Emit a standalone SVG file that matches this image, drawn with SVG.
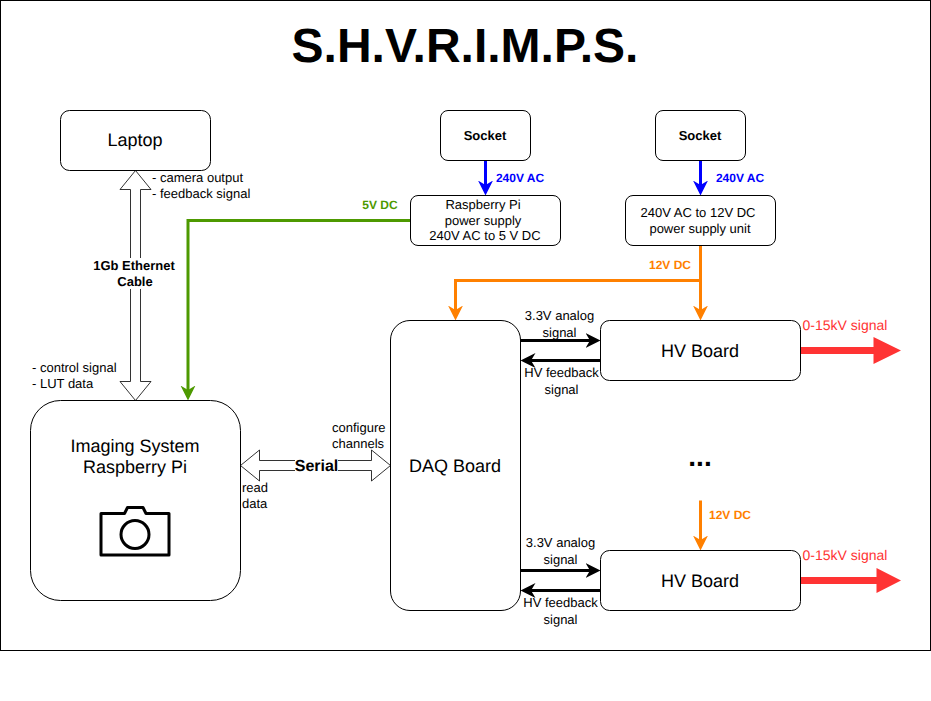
<svg xmlns="http://www.w3.org/2000/svg" width="931" height="701" viewBox="0 0 931 701">
<style>
text{font-family:"Liberation Sans",Arial,sans-serif;text-anchor:middle;fill:#000;text-rendering:geometricPrecision}
.n{fill:#fff;stroke:#000;stroke-width:1}
.t16{font-size:18px}
.t13{font-size:13px}
.s{text-anchor:start}
.b{font-weight:bold}
.b12{font-size:12px;font-weight:bold}
.w{fill:none;stroke-width:3}
.hollow{fill:#fff;stroke:#000;stroke-width:1;stroke-opacity:.8}
</style>
<defs>
<marker id="aBlue" markerUnits="userSpaceOnUse" markerWidth="17" markerHeight="17" refX="7" refY="8" orient="auto"><path d="M0 0.5L15 8L0 15.5L4.5 8Z" fill="#0000ff"/></marker>
<marker id="aOrange" markerUnits="userSpaceOnUse" markerWidth="17" markerHeight="17" refX="7" refY="8" orient="auto"><path d="M0 0.5L15 8L0 15.5L4.5 8Z" fill="#ff8000"/></marker>
<marker id="aGreen" markerUnits="userSpaceOnUse" markerWidth="17" markerHeight="17" refX="7" refY="8" orient="auto"><path d="M0 0.5L15 8L0 15.5L4.5 8Z" fill="#4d9900"/></marker>
<marker id="aBlack" markerUnits="userSpaceOnUse" markerWidth="17" markerHeight="17" refX="7" refY="8" orient="auto"><path d="M0 0.5L15 8L0 15.5L4.5 8Z" fill="#000"/></marker>
</defs>
<rect id="frame" x="0.5" y="0.5" width="930" height="650" fill="#fff" stroke="#000"/>
<text x="465" y="62" class="b" font-size="48">S.H.V.R.I.M.P.S.</text>
<g id="connectors">
<path class="hollow" d="M135.5 170.5L151 189.5H140.5V381.5H151L135.5 400.5L120 381.5H130.5V189.5H120Z"/>
<path class="hollow" d="M240.5 465.5L259.5 450V460.5H371.5V450L390.5 465.5L371.5 481V470.5H259.5V481Z"/>
<path class="w" stroke="#4d9900" d="M410.5 220.5H188V392.500" marker-end="url(#aGreen)"/>
<path class="w" stroke="#0000ff" d="M485.5 160.5V187.500" marker-end="url(#aBlue)"/>
<path class="w" stroke="#0000ff" d="M700.5 160.5V187.500" marker-end="url(#aBlue)"/>
<path class="w" stroke="#ff8000" d="M700.5 245.5V312.500" marker-end="url(#aOrange)"/>
<path class="w" stroke="#ff8000" d="M700.5 280.5H455.5V312.500" marker-end="url(#aOrange)"/>
<path class="w" stroke="#ff8000" d="M700.5 500.5V542.500" marker-end="url(#aOrange)"/>
<path class="w" stroke="#000" d="M520.5 340.5H592.500" marker-end="url(#aBlack)"/>
<path class="w" stroke="#000" d="M600.5 360.5H528.500" marker-end="url(#aBlack)"/>
<path class="w" stroke="#000" d="M520.5 570.5H592.500" marker-end="url(#aBlack)"/>
<path class="w" stroke="#000" d="M600.5 590.5H528.500" marker-end="url(#aBlack)"/>
<path d="M800.5 347H873.5V337L901 350.5L873.5 364V354H800.5Z" fill="#ff3333"/>
<path d="M800.5 577H876.5V568L901 580.5L876.5 593V584H800.5Z" fill="#ff3333"/>
</g>
<g id="laptop"><rect class="n" x="60.5" y="110.5" width="150" height="60" rx="9" ry="9"/><text x="135" y="146" class="t16">Laptop</text></g>
<g id="socket1"><rect class="n" x="440.5" y="110.5" width="90" height="50" rx="7.5" ry="7.5"/><text x="485" y="140" class="t13 b">Socket</text></g>
<g id="socket2"><rect class="n" x="655.5" y="110.5" width="90" height="50" rx="7.5" ry="7.5"/><text x="700" y="140" class="t13 b">Socket</text></g>
<g id="pi-psu"><rect class="n" x="410.5" y="195.5" width="150" height="50" rx="7.5" ry="7.5"/><text class="t13" x="483" y="209">Raspberry Pi</text><text class="t13" x="483" y="225">power supply</text><text class="t13" x="485" y="240">240V AC to 5 V DC</text></g>
<g id="psu-12v"><rect class="n" x="625.5" y="195.5" width="150" height="50" rx="7.5" ry="7.5"/><text class="t13" x="698" y="217">240V AC to 12V DC</text><text class="t13" x="700" y="233">power supply unit</text></g>
<g id="imaging"><rect class="n" x="30.5" y="400.5" width="210" height="200" rx="30" ry="30"/><text x="135" y="452" class="t16">Imaging System</text><text x="135" y="473" class="t16">Raspberry Pi</text>
<path d="M101 513.5H124.5L127.5 507.5H143L146 513.5H169V555H101Z" fill="none" stroke="#000" stroke-width="3" stroke-linejoin="round"/><circle cx="135" cy="534.5" r="14" fill="none" stroke="#000" stroke-width="3"/></g>
<g id="daq"><rect class="n" x="390.5" y="320.5" width="130" height="290" rx="19.5" ry="19.5"/><text x="455" y="472" class="t16">DAQ Board</text></g>
<g id="hv1"><rect class="n" x="600.5" y="320.5" width="200" height="60" rx="9" ry="9"/><text x="700" y="357" class="t16">HV Board</text></g>
<g id="hv2"><rect class="n" x="600.5" y="550.5" width="200" height="60" rx="9" ry="9"/><text x="700" y="587" class="t16">HV Board</text></g>
<g id="labels">
<text class="t13 s" x="152" y="182">- camera output</text><text class="t13 s" x="152" y="198">- feedback signal</text>
<rect x="92" y="258" width="84" height="31" fill="#fff"/>
<text class="t13 b" x="134" y="270">1Gb Ethernet</text><text class="t13 b" x="135" y="286">Cable</text>
<text class="t13 s" x="32" y="372">- control signal</text><text class="t13 s" x="32" y="388">- LUT data</text>
<rect x="295" y="456" width="43" height="19" fill="#fff"/>
<text x="316.500" y="471" font-size="16" class="b">Serial</text>
<text class="t13 s" x="332" y="432">configure</text><text class="t13 s" x="332" y="448">channels</text>
<text class="t13 s" x="242" y="492">read</text><text class="t13 s" x="242" y="508">data</text>
<text class="b12" x="380" y="209" style="fill:#4d9900">5V DC</text>
<text class="b12" x="520" y="182" style="fill:#0000ff">240V AC</text>
<text class="b12" x="740" y="182" style="fill:#0000ff">240V AC</text>
<text class="b12" x="670" y="269" style="fill:#ff8000">12V DC</text>
<text class="b12" x="730" y="519" style="fill:#ff8000">12V DC</text>
<text class="t13" x="559.500" y="320">3.3V analog</text><text class="t13" x="559.500" y="337">signal</text>
<text class="t13" x="561.500" y="377">HV feedback</text><text class="t13" x="561.500" y="394">signal</text>
<text class="t13" x="560.500" y="547">3.3V analog</text><text class="t13" x="560.500" y="564">signal</text>
<text class="t13" x="560.500" y="607">HV feedback</text><text class="t13" x="560.500" y="624">signal</text>
<text x="845" y="330" font-size="14" style="fill:#ff3333">0-15kV signal</text>
<text x="845" y="560" font-size="14" style="fill:#ff3333">0-15kV signal</text>
<text x="700" y="466" font-size="28" class="b">...</text>
</g>
</svg>
